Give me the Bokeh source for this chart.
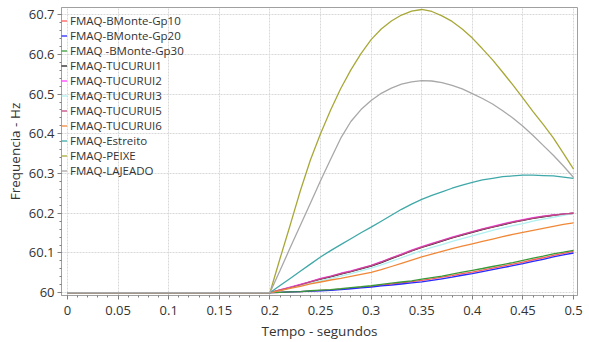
from bokeh.plotting import figure
from bokeh.models import Range1d, FixedTicker, Legend, LegendItem
from bokeh.embed import file_html
from bokeh.resources import INLINE

# ---- data ----
tempo = [0.0, 0.20, 0.21, 0.22, 0.23, 0.24, 0.25, 0.26, 0.27, 0.28, 0.29, 0.30,
         0.31, 0.32, 0.33, 0.34, 0.35, 0.36, 0.37, 0.38, 0.39, 0.40,
         0.41, 0.42, 0.43, 0.44, 0.45, 0.46, 0.47, 0.48, 0.49, 0.50]

bmonte_gp10 = [60.0, 60.0, 60.001, 60.002, 60.003, 60.004, 60.006, 60.007, 60.009, 60.011, 60.014, 60.016,
               60.019, 60.022, 60.025, 60.028, 60.031, 60.035, 60.039, 60.043, 60.048, 60.052,
               60.057, 60.062, 60.067, 60.072, 60.077, 60.083, 60.088, 60.094, 60.099, 60.104]
bmonte_gp20 = [60.0, 60.0, 60.001, 60.002, 60.003, 60.004, 60.005, 60.006, 60.008, 60.010, 60.012, 60.014,
               60.017, 60.019, 60.022, 60.025, 60.0275, 60.031, 60.035, 60.039, 60.044, 60.048,
               60.053, 60.058, 60.063, 60.068, 60.073, 60.079, 60.084, 60.090, 60.095, 60.100]
bmonte_gp30 = [60.0, 60.0, 60.001, 60.002, 60.003, 60.005, 60.0065, 60.008, 60.010, 60.013, 60.015, 60.0175,
               60.021, 60.024, 60.027, 60.030, 60.034, 60.038, 60.042, 60.047, 60.052, 60.0565,
               60.061, 60.066, 60.071, 60.076, 60.0815, 60.087, 60.092, 60.098, 60.102, 60.1065]
tucurui1 = [60.0, 60.0, 60.006, 60.013, 60.020, 60.027, 60.034, 60.040, 60.047, 60.053, 60.060, 60.067,
            60.076, 60.086, 60.095, 60.105, 60.114, 60.122, 60.130, 60.138, 60.145, 60.152,
            60.159, 60.165, 60.171, 60.177, 60.182, 60.187, 60.191, 60.195, 60.198, 60.200]
tucurui2 = [60.0, 60.0, 60.007, 60.014, 60.021, 60.028, 60.036, 60.042, 60.049, 60.055, 60.062, 60.069,
            60.078, 60.088, 60.097, 60.107, 60.116, 60.124, 60.132, 60.140, 60.147, 60.154,
            60.161, 60.167, 60.173, 60.179, 60.184, 60.189, 60.193, 60.196, 60.198, 60.200]
tucurui3 = [60.0, 60.0, 60.006, 60.012, 60.018, 60.024, 60.030, 60.036, 60.042, 60.048, 60.055, 60.062,
            60.070, 60.079, 60.088, 60.097, 60.106, 60.114, 60.121, 60.129, 60.136, 60.143,
            60.150, 60.157, 60.163, 60.169, 60.174, 60.180, 60.185, 60.190, 60.195, 60.200]
tucurui5 = [60.0, 60.0, 60.007, 60.013, 60.020, 60.027, 60.035, 60.041, 60.048, 60.054, 60.061, 60.068,
            60.077, 60.087, 60.096, 60.106, 60.115, 60.123, 60.131, 60.139, 60.146, 60.153,
            60.160, 60.166, 60.172, 60.178, 60.183, 60.188, 60.192, 60.195, 60.198, 60.200]
tucurui6 = [60.0, 60.0, 60.005, 60.011, 60.016, 60.022, 60.027, 60.032, 60.036, 60.041, 60.046, 60.051,
            60.058, 60.066, 60.074, 60.082, 60.090, 60.097, 60.104, 60.111, 60.117, 60.123,
            60.129, 60.135, 60.141, 60.147, 60.152, 60.157, 60.162, 60.167, 60.172, 60.176]
estreito = [60.0, 60.0, 60.018, 60.036, 60.054, 60.072, 60.090, 60.106, 60.121, 60.136, 60.151, 60.165,
            60.180, 60.195, 60.210, 60.223, 60.235, 60.245, 60.254, 60.263, 60.271, 60.278,
            60.284, 60.288, 60.292, 60.294, 60.296, 60.296, 60.295, 60.294, 60.291, 60.288]
peixe = [60.0, 60.0, 60.086, 60.170, 60.256, 60.334, 60.400, 60.460, 60.514, 60.561, 60.602, 60.637,
         60.664, 60.684, 60.699, 60.709, 60.713, 60.708, 60.697, 60.683, 60.664, 60.641,
         60.614, 60.586, 60.555, 60.523, 60.490, 60.456, 60.424, 60.390, 60.351, 60.311]
lajeado = [60.0, 60.0, 60.056, 60.113, 60.169, 60.225, 60.282, 60.336, 60.389, 60.431, 60.461, 60.484,
           60.502, 60.515, 60.525, 60.531, 60.534, 60.533, 60.529, 60.522, 60.513, 60.501,
           60.489, 60.475, 60.458, 60.440, 60.419, 60.396, 60.371, 60.346, 60.319, 60.290]

series_names = ["FMAQ-BMonte-Gp10", "FMAQ-BMonte-Gp20", "FMAQ -BMonte-Gp30", "FMAQ-TUCURUI1",
                "FMAQ-TUCURUI2", "FMAQ-TUCURUI3", "FMAQ-TUCURUI5", "FMAQ-TUCURUI6",
                "FMAQ-Estreito", "FMAQ-PEIXE", "FMAQ-LAJEADO"]
series_values = [bmonte_gp10, bmonte_gp20, bmonte_gp30, tucurui1, tucurui2, tucurui3,
                 tucurui5, tucurui6, estreito, peixe, lajeado]
series_colors = ["#ff5a5a", "#2828ff", "#3a9a3a", "#202020", "#ff40ff", "#b0f0f0",
                 "#c04a80", "#f08838", "#40a8a8", "#a8a838", "#a8a8a8"]

x_ticks = [0, 0.05, 0.1, 0.15, 0.2, 0.25, 0.3, 0.35, 0.4, 0.45, 0.5]
x_tick_labels = ["0", "0.05", "0.1", "0.15", "0.2", "0.25", "0.3", "0.35", "0.4", "0.45", "0.5"]
y_ticks = [60.0, 60.1, 60.2, 60.3, 60.4, 60.5, 60.6, 60.7]
y_tick_labels = ["60", "60.1", "60.2", "60.3", "60.4", "60.5", "60.6", "60.7"]

FONT = "Open Sans"
TXT = "#333333"

p = figure(width=589, height=342, output_backend="svg", toolbar_location=None,
           x_range=Range1d(-0.0059, 0.5039), y_range=Range1d(59.993, 60.718),
           min_border_left=61, min_border_right=12, min_border_top=7, min_border_bottom=45)

p.outline_line_color = "#a0a0a0"
p.outline_line_width = 1
p.background_fill_color = "white"
p.border_fill_color = "white"

p.xaxis.ticker = FixedTicker(ticks=x_ticks, minor_ticks=[round(0.01 * i, 2) for i in range(0, 51)])
p.yaxis.ticker = FixedTicker(ticks=y_ticks, minor_ticks=[round(60 + 0.02 * i, 2) for i in range(0, 37)])
p.xaxis.major_label_overrides = {t: l for t, l in zip(x_ticks, x_tick_labels)}
p.yaxis.major_label_overrides = {t: l for t, l in zip(y_ticks, y_tick_labels)}

for ax in (p.xaxis, p.yaxis):
    ax.axis_line_color = "#a0a0a0"
    ax.major_tick_line_color = "#808080"
    ax.minor_tick_line_color = "#808080"
    ax.major_tick_out = 4
    ax.major_tick_in = 0
    ax.minor_tick_out = 2
    ax.minor_tick_in = 0
    ax.major_label_text_font = FONT
    ax.major_label_text_font_size = "13px"
    ax.major_label_text_color = TXT
    ax.axis_label_text_font = FONT
    ax.axis_label_text_font_size = "13.5px"
    ax.axis_label_text_font_style = "normal"
    ax.axis_label_text_color = TXT

p.xaxis.axis_label = "Tempo - segundos"
p.yaxis.axis_label = "Frequencia - Hz"
p.xaxis.major_label_standoff = 6
p.yaxis.major_label_standoff = 3
p.xaxis.axis_label_standoff = 4
p.yaxis.axis_label_standoff = 2

p.grid.grid_line_color = "#d8d8d8"
p.grid.grid_line_dash = "2 1"
p.grid.grid_line_width = 1

items = []
for name, vals, col in zip(series_names, series_values, series_colors):
    r = p.line(tempo, vals, line_color=col, line_width=1.3)
    items.append(LegendItem(label=name, renderers=[r]))

legend = Legend(items=items, location=(0, 117))
legend.margin = 0
legend.padding = 5
legend.spacing = 0
legend.label_height = 15
legend.glyph_height = 15
legend.glyph_width = 6
legend.label_standoff = 3
legend.label_text_font = FONT
legend.label_text_font_size = "11.5px"
legend.label_text_color = TXT
legend.border_line_color = None
legend.background_fill_alpha = 0
p.add_layout(legend)

open("out.html", "w").write(file_html(p, INLINE))
